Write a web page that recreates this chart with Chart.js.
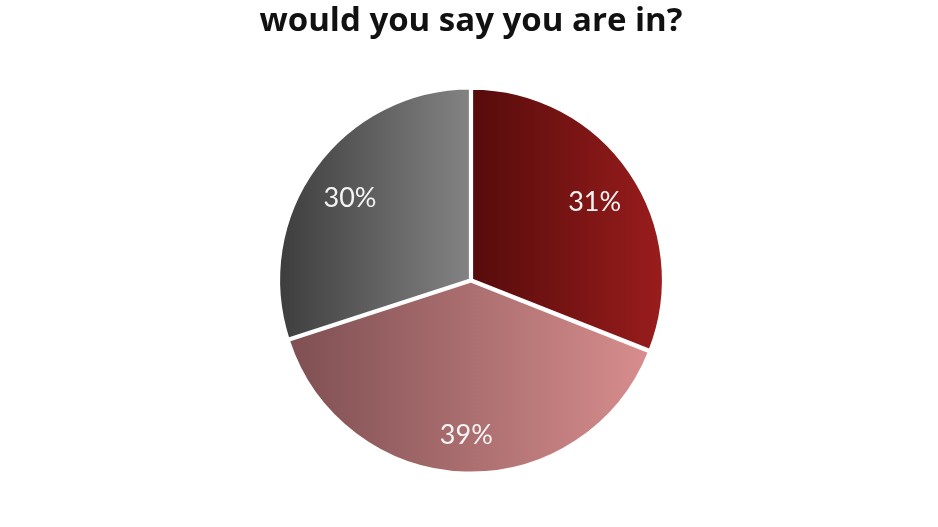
<!DOCTYPE html>
<html>
<head>
<meta charset="utf-8">
<script src="https://cdn.jsdelivr.net/npm/chart.js@4/dist/chart.umd.min.js"></script>
<style>
  html, body { margin: 0; padding: 0; background: #fff; }
  #wrap { width: 938px; height: 527px; }
</style>
</head>
<body>
<div id="wrap"><canvas id="pie"></canvas></div>
<script>
const titleText = 'would you say you are in?';
const categories = ['A', 'B', 'C'];
const shares = [31, 39, 30];
const labels = ['31%', '39%', '30%'];

// left/right colours of each slice's horizontal gradient
const gradLeft = ['#560b0b', '#7b4d50', '#3c3c3c'];
const gradRight = ['#9b1d1d', '#dc9090', '#838383'];

function sliceFill(context) {
    const chart = context.chart;
    const area = chart.chartArea;
    if (!area) return gradRight[context.dataIndex];
    const i = context.dataIndex;
    const cx = (area.left + area.right) / 2;
    const r = Math.min(area.width, area.height) / 2;
    // red slice sits right of centre, grey left, pink spans both
    let x0 = cx - r, x1 = cx + r;
    if (i === 0) x0 = cx;
    if (i === 2) x1 = cx;
    const g = chart.ctx.createLinearGradient(x0, 0, x1, 0);
    g.addColorStop(0, gradLeft[i]);
    g.addColorStop(1, gradRight[i]);
    return g;
}

const sliceLabels = {
    id: 'sliceLabels',
    afterDatasetsDraw(chart) {
        const ctx = chart.ctx;
        const meta = chart.getDatasetMeta(0);
        ctx.save();
        ctx.font = '27px Lato';
        ctx.fillStyle = '#f4f4f4';
        ctx.textAlign = 'center';
        ctx.textBaseline = 'middle';
        meta.data.forEach((arc, i) => {
            const mid = (arc.startAngle + arc.endAngle) / 2;
            const d = arc.outerRadius * 0.78;
            ctx.fillText(labels[i], arc.x + Math.cos(mid) * d, arc.y + Math.sin(mid) * d + 6);
        });
        ctx.restore();
    }
};

new Chart(document.getElementById('pie'), {
    type: 'pie',
    data: {
        labels: categories,
        datasets: [{
            data: shares,
            backgroundColor: sliceFill,
            borderColor: '#ffffff',
            borderWidth: 3,
            offset: 3
        }]
    },
    options: {
        responsive: true,
        maintainAspectRatio: false,
        animation: false,
        layout: { padding: { left: 4, right: 0, top: 0, bottom: 52 } },
        plugins: {
            legend: { display: false },
            tooltip: { enabled: false },
            title: {
                display: true,
                text: titleText,
                color: '#111111',
                font: { family: 'Open Sans', size: 33, weight: 'bold' },
                padding: { top: 2, bottom: 44 }
            }
        }
    },
    plugins: [sliceLabels]
});
</script>
</body>
</html>
